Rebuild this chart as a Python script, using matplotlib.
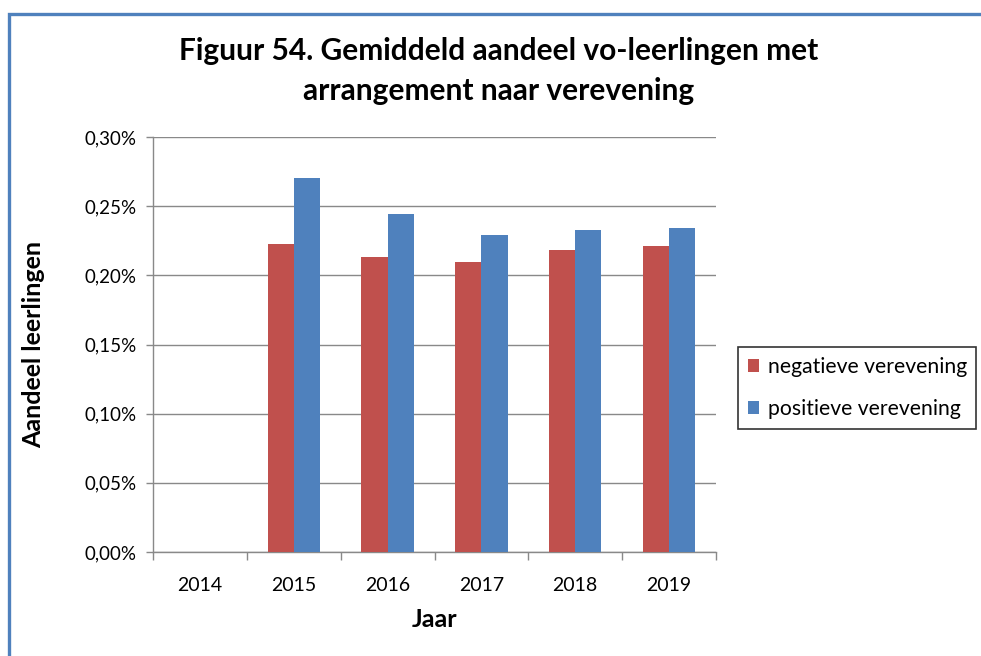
import numpy as np
import matplotlib
matplotlib.use("Agg")
import matplotlib.pyplot as plt
from matplotlib.patches import Rectangle
from matplotlib.ticker import FuncFormatter, FixedLocator

years = ["2014", "2015", "2016", "2017", "2018", "2019"]
negatieve = [np.nan, 0.223, 0.213, 0.210, 0.218, 0.221]   # percent
positieve = [np.nan, 0.270, 0.244, 0.229, 0.233, 0.234]   # percent
yticks = [0.00, 0.05, 0.10, 0.15, 0.20, 0.25, 0.30]

RED = "#C0504D"
BLUE = "#4F81BD"
GRID = "#898989"

plt.rcParams["font.family"] = ["Lato", "DejaVu Sans"]

W, H = 981, 656
fig = plt.figure(figsize=(W / 100, H / 100), dpi=100)

# outer chart frame
fig.patches.append(Rectangle((8.5 / W, -0.1), 1.2, (H - 13.5) / H + 0.1,
                             transform=fig.transFigure, fill=False,
                             edgecolor=BLUE, linewidth=2.4, zorder=0))

ax = fig.add_axes([153 / W, (H - 552) / H, (716 - 153) / W, (552 - 137) / H])

x = np.arange(len(years))
bw = 0.278
ax.bar(x - bw / 2, negatieve, width=bw, color=RED, label="negatieve verevening", zorder=3)
ax.bar(x + bw / 2, positieve, width=bw, color=BLUE, label="positieve verevening", zorder=3)

ax.set_xlim(-0.5, len(years) - 0.5)
ax.set_ylim(0, 0.30)
ax.set_yticks(yticks)
ax.yaxis.set_major_formatter(FuncFormatter(lambda v, p: f"{v:.2f}%".replace(".", ",")))
ax.yaxis.grid(True, color=GRID, linewidth=1.0, zorder=0)
ax.set_axisbelow(True)

ax.set_xticks(x)
ax.set_xticklabels(years)
ax.xaxis.set_minor_locator(FixedLocator(np.arange(-0.5, len(years), 1.0)))
ax.tick_params(axis="x", which="major", length=0, pad=18, labelsize=14, colors="#000000")
ax.tick_params(axis="x", which="minor", length=6, color=GRID, width=1.0)
ax.tick_params(axis="y", length=5, color=GRID, width=1.0, pad=7, labelsize=13.5)

for s in ["top", "right"]:
    ax.spines[s].set_visible(False)
for s in ["left", "bottom"]:
    ax.spines[s].set_color(GRID)
    ax.spines[s].set_linewidth(1.0)

ax.set_xlabel("Jaar", fontsize=18, fontweight="bold", labelpad=10)
ax.set_ylabel("Aandeel leerlingen", fontsize=18, fontweight="bold")
ax.yaxis.set_label_coords((45 - 153) / (716 - 153), 0.5)

fig.text(499 / W, 1 - 71 / H, "Figuur 54. Gemiddeld aandeel vo-leerlingen met\narrangement naar verevening",
         ha="center", va="center", fontsize=21.5, fontweight="bold", linespacing=1.5)

leg = ax.legend(loc="center left", bbox_to_anchor=(738 / W, 1 - 388 / H),
                bbox_transform=fig.transFigure, frameon=True, fancybox=False,
                fontsize=15.2, handlelength=0.55, handleheight=0.55, handletextpad=0.4,
                labelspacing=1.05, borderpad=0.45, borderaxespad=0)
leg.get_frame().set_edgecolor("#000000")
leg.get_frame().set_linewidth(1.2)

fig.savefig("out.png", dpi=100)
